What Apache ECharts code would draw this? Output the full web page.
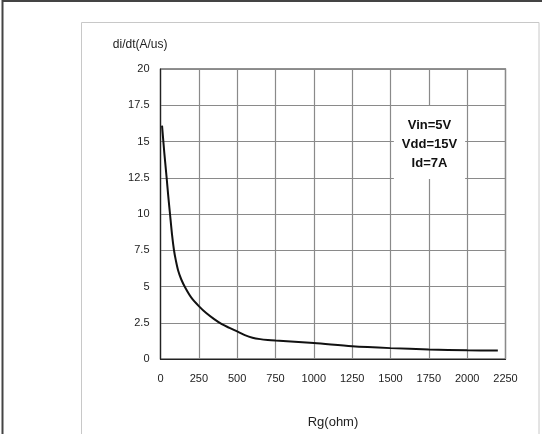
<!DOCTYPE html>
<html>
<head>
<meta charset="utf-8">
<script src="https://cdn.jsdelivr.net/npm/echarts@6/dist/echarts.min.js"></script>
<style>html,body{margin:0;padding:0;background:#fff;}#c{width:542px;height:434px;}</style>
</head>
<body>
<div id="c"></div>
<script>
const rgValues = [10, 25, 40, 50, 62, 75, 88, 100, 115, 135, 160, 200, 250, 300, 350, 400, 450, 500, 550, 600, 650, 700, 750, 1000, 1250, 1500, 1750, 2000, 2200];
const didtValues = [16.1, 14.2, 12.5, 11.3, 10, 8.6, 7.5, 6.8, 6.1, 5.5, 4.95, 4.25, 3.65, 3.15, 2.75, 2.4, 2.15, 1.9, 1.65, 1.47, 1.37, 1.31, 1.27, 1.1, 0.88, 0.75, 0.66, 0.6, 0.58];
const xTicks = [0, 250, 500, 750, 1000, 1250, 1500, 1750, 2000, 2250];
const yTicks = [0, 2.5, 5, 7.5, 10, 12.5, 15, 17.5, 20];
const annotation = ['Vin=5V', 'Vdd=15V', 'Id=7A'];

const chart = echarts.init(document.getElementById('c'), null, {renderer: 'canvas'});
const font = 'Liberation Sans, Arial, sans-serif';
chart.setOption({
  animation: false,
  backgroundColor: '#fff',
  grid: {left: 160.5, right: 36.5, top: 69, bottom: 73, show: true, borderColor: '#222', borderWidth: 1.2},
  xAxis: {
    type: 'value', min: xTicks[0], max: xTicks[xTicks.length - 1], interval: 250,
    name: 'Rg(ohm)', nameLocation: 'middle', nameGap: 57,
    nameTextStyle: {fontFamily: font, fontSize: 13, color: '#222'},
    axisLine: {show: true, lineStyle: {color: '#222', width: 1.2}},
    axisTick: {show: false},
    axisLabel: {fontFamily: font, fontSize: 11, color: '#222', margin: 14, formatter: v => String(v)},
    splitLine: {show: true, lineStyle: {color: '#8a8a8a', width: 1.2}}
  },
  yAxis: {
    type: 'value', min: yTicks[0], max: yTicks[yTicks.length - 1], interval: 2.5,
    name: 'di/dt(A/us)', nameLocation: 'end', nameGap: 18,
    nameTextStyle: {fontFamily: font, fontSize: 12, color: '#222', align: 'right', padding: [0, -7, 0, 0]},
    axisLine: {show: true, lineStyle: {color: '#222', width: 1.2}},
    axisTick: {show: false},
    axisLabel: {fontFamily: font, fontSize: 11, color: '#222', margin: 11, formatter: v => String(v)},
    splitLine: {show: true, lineStyle: {color: '#8a8a8a', width: 1.2}}
  },
  graphic: [
    {type: 'rect', z: 0, silent: true, shape: {x: 2.5, y: 1, width: 560, height: 460}, style: {fill: 'none', stroke: '#444', lineWidth: 2}},
    {type: 'rect', z: 0, silent: true, shape: {x: 81.5, y: 22.5, width: 457.5, height: 430}, style: {fill: 'none', stroke: '#c8c8c8', lineWidth: 1}},
    {type: 'text', z: 100, x: 429.5, y: 106, style: {
      text: annotation.join('\n'), fill: '#111', font: 'bold 13px ' + font,
      align: 'center', verticalAlign: 'top', lineHeight: 19, backgroundColor: '#fff', padding: [10, 8, 6, 8]
    }}
  ],
  series: [{
    type: 'line', data: rgValues.map((x, i) => [x, didtValues[i]]),
    showSymbol: false, smooth: 0.3, z: 5,
    lineStyle: {color: '#111', width: 2}
  }]
});
</script>
</body>
</html>
